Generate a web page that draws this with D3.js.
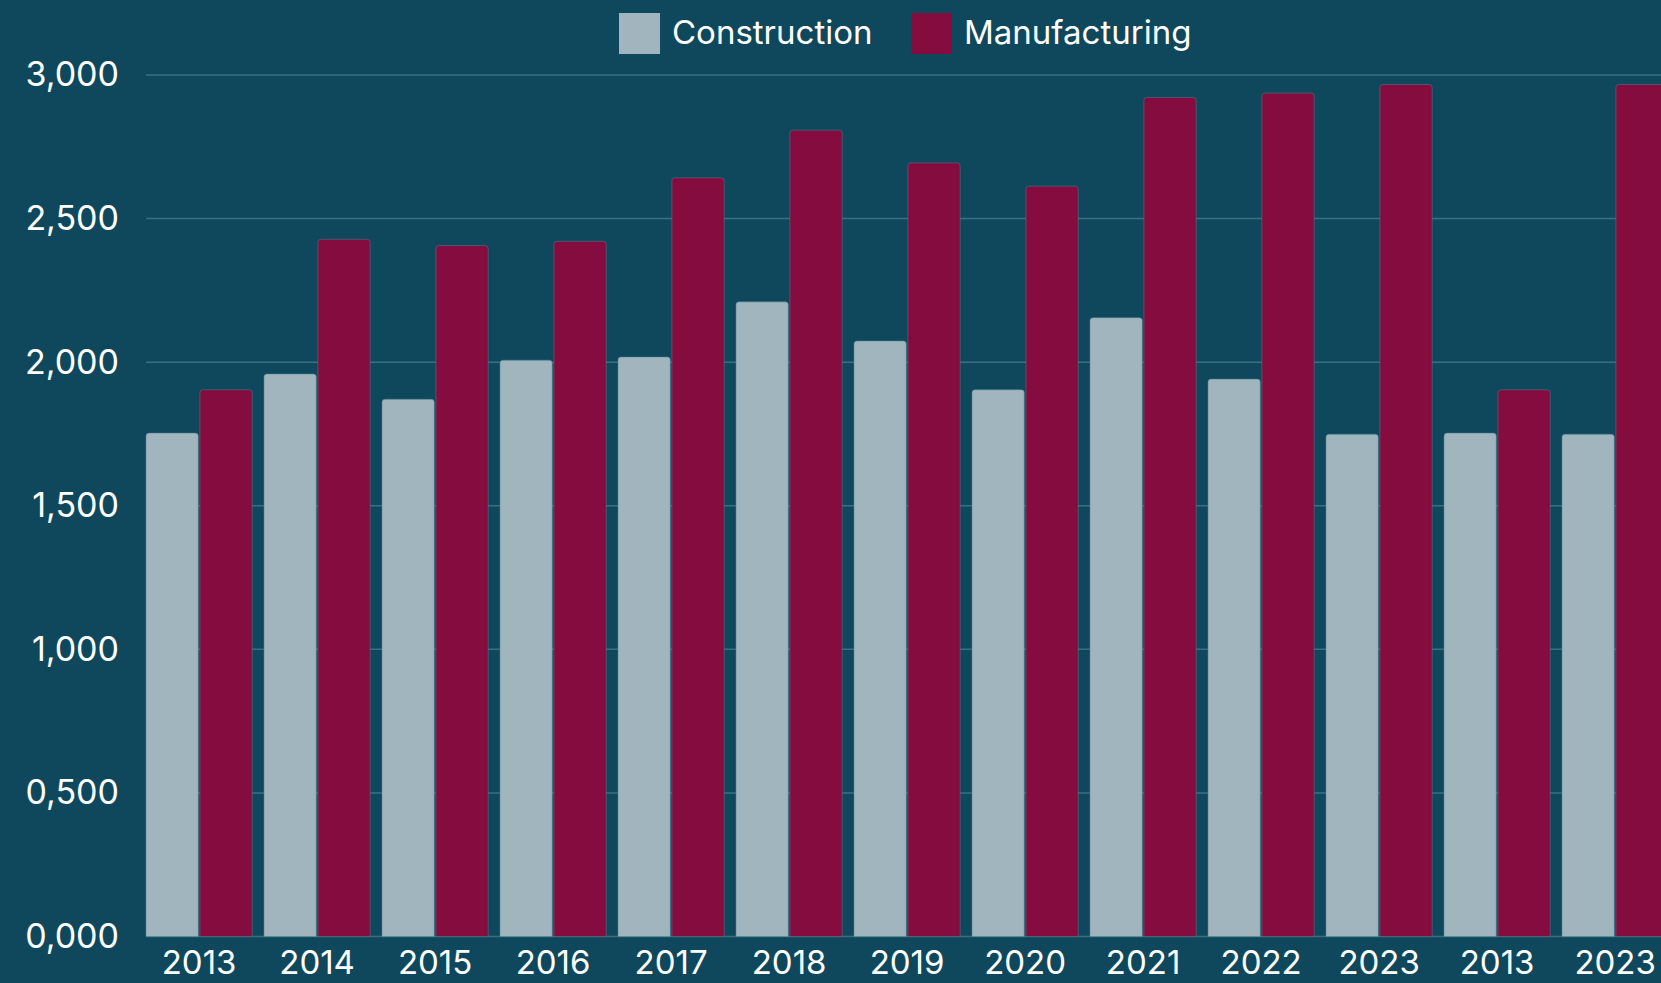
<!DOCTYPE html>
<html>
<head>
<meta charset="utf-8">
<script src="https://cdn.jsdelivr.net/npm/d3@7"></script>
<style>
  html, body { margin: 0; padding: 0; background: #0f485d; }
  svg { display: block; }
  text { font-family: "Inter", "DejaVu Sans", sans-serif; fill: #ffffff; }
</style>
</head>
<body>
<div id="chart"></div>
<script>
const years = ["2013", "2014", "2015", "2016", "2017", "2018", "2019", "2020", "2021", "2022", "2023", "2013", "2023"]
const construction = [1753, 1959, 1871, 2007, 2018, 2210, 2074, 1904, 2155, 1941, 1749, 1753, 1749]
const manufacturing = [1904, 2428, 2406, 2421, 2642, 2808, 2694, 2613, 2922, 2937, 2967, 1904, 2967]
const seriesNames = ["Construction", "Manufacturing"]
const yTicks = [0, 500, 1000, 1500, 2000, 2500, 3000]
const yTickLabels = ["0,000", "0,500", "1,000", "1,500", "2,000", "2,500", "3,000"]

const W = 1661, H = 983
const margin = {top: 75, left: 146, bottom: 46.5}

const colors = d3.scaleOrdinal()
	.domain(seriesNames)
	.range(["#a0b5bd", "#840c3e"])

const svg = d3.select("#chart")
	.append("svg")
	.attr("width", W)
	.attr("height", H)

svg.append("rect")
	.attr("width", W)
	.attr("height", H)
	.attr("fill", "#0f485d")

const rows = years.map((y, i) => ({
	idx: i,
	year: y,
	Construction: construction[i],
	Manufacturing: manufacturing[i]
}))

// 13 groups, last one runs off the right edge like the original
const step = 118
const x0 = d3.scaleBand()
	.domain(rows.map(d => d.idx))
	.range([margin.left, margin.left + step * (rows.length - 0.1)])
	.paddingInner(0.1)
	.paddingOuter(0)

const x1 = d3.scaleBand()
	.domain(seriesNames)
	.range([0, x0.bandwidth()])
	.paddingInner(0.03)

const y = d3.scaleLinear()
	.domain([0, 3000])
	.range([H - margin.bottom, margin.top])

// gridlines
svg.append("g")
	.attr("class", "grid")
	.selectAll("line")
	.data(yTicks)
	.enter().append("line")
	.attr("x1", margin.left)
	.attr("x2", W)
	.attr("y1", d => y(d))
	.attr("y2", d => y(d))
	.attr("stroke", "#3a6f82")
	.attr("stroke-width", 1.5)

// y labels
const yAxis = d3.axisLeft(y)
	.tickValues(yTicks)
	.tickFormat((d, i) => yTickLabels[i])
	.tickSize(0)
	.tickPadding(0)

svg.append("g")
	.attr("class", "y-axis")
	.attr("transform", `translate(119,0)`)
	.call(yAxis)
	.call(g => g.select(".domain").remove())
	.selectAll("text")
	.attr("font-size", 34)
	.attr("fill", "#ffffff")
	.attr("dy", "0.32em")

// bars with rounded tops
function barPath(x, yTop, w, yBot, r) {
	return `M${x},${yBot} L${x},${yTop + r} Q${x},${yTop} ${x + r},${yTop} ` +
		`L${x + w - r},${yTop} Q${x + w},${yTop} ${x + w},${yTop + r} L${x + w},${yBot} Z`
}

const groups = svg.selectAll(".bar-group")
	.data(rows)
	.enter().append("g")
	.attr("class", "bar-group")
	.attr("transform", d => `translate(${x0(d.idx)},0)`)

groups.selectAll("path")
	.data(d => seriesNames.map(k => ({key: k, value: d[k]})))
	.enter().append("path")
	.attr("d", d => barPath(x1(d.key), y(d.value), x1.bandwidth(), y(0), 3))
	.attr("fill", d => colors(d.key))
	.attr("stroke", "#4f7f90")
	.attr("stroke-opacity", 0.5)
	.attr("stroke-width", 1)

// x labels
const xAxis = d3.axisBottom(x0)
	.tickFormat(i => years[i])
	.tickSize(0)
	.tickPadding(0)

svg.append("g")
	.attr("class", "x-axis")
	.attr("transform", `translate(0,${H - margin.bottom})`)
	.call(xAxis)
	.call(g => g.select(".domain").remove())
	.selectAll("text")
	.attr("font-size", 33)
	.attr("fill", "#ffffff")
	.attr("dy", "1.14em")

// legend
const legendX = [619, 911]
const legend = svg.append("g")
	.attr("class", "legend")

legend.selectAll("rect")
	.data(seriesNames)
	.enter().append("rect")
	.attr("x", (d, i) => legendX[i])
	.attr("y", 13)
	.attr("width", 41)
	.attr("height", 41)
	.attr("fill", d => colors(d))

legend.selectAll("text")
	.data(seriesNames)
	.enter().append("text")
	.attr("x", (d, i) => legendX[i] + 53)
	.attr("y", 44)
	.attr("font-size", 33)
	.text(d => d)
</script>
</body>
</html>
